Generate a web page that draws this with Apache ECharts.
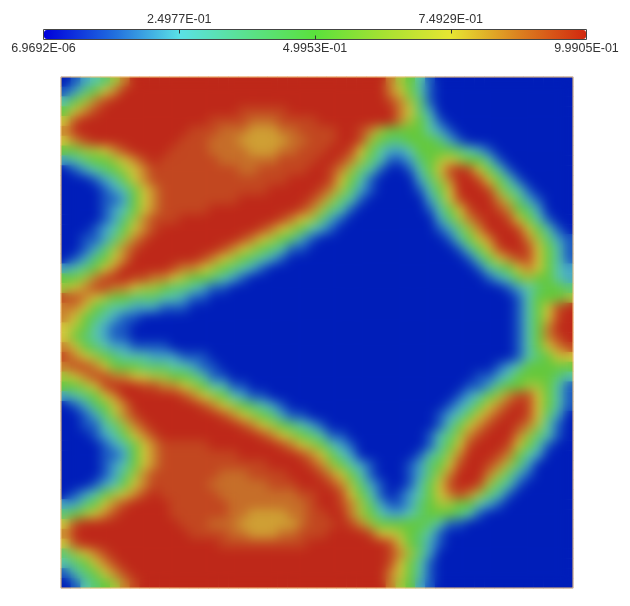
<!DOCTYPE html>
<html><head><meta charset="utf-8">
<style>html,body{margin:0;padding:0;background:#fff}#c{width:630px;height:606px}</style>
<script src="https://cdn.jsdelivr.net/npm/echarts@6/dist/echarts.min.js"></script>
</head><body><div id="c"></div>
<script>
// colour-bar scale
const scaleMin = 6.9692e-6, scaleMax = 0.99905;
const topTicks = [0.24977, 0.74929];
const topTickLabels = ['2.4977E-01', '7.4929E-01'];
const bottomTicks = [6.9692e-6, 0.49953, 0.99905];
const bottomTickLabels = ['6.9692E-06', '4.9953E-01', '9.9905E-01'];
// value for each level symbol
const levels = {'0':0.0,'1':0.11,'2':0.21,'3':0.31,'4':0.42,'5':0.52,'6':0.63,'7':0.74,'b':0.82,'8':0.87,'c':0.90,'a':0.955,'9':0.999};
// field samples, 52 rows x 52 columns, top row first
const fieldRows = [
'0123468999 9999999999 9999999999 9998653100 000000000000',
'1245789999 9999999999 9999999999 9998753100 000000000000',
'3568a99999 9999999999 9999999999 999a864100 000000000000',
'578a999999 99999999aa aaa9999999 9999874200 000000000000',
'7a99999999 99999aaaac ccaaaa9999 9999865310 000000000000',
'8999999999 999aaacccb bbccaaaa99 a865555321 000000000000',
'78a9999999 99aaacccbb bbbccaaa99 a654455542 100000000000',
'556678a999 9aaaaccccb bbccaaa99a 7532235555 432100000000',
'23455678a9 aaaaaacccc ccaaaa99a8 6431124567 655310000000',
'012345678a aaaaaaaacc aaaaa99a86 431001357a 9a7531000000',
'000123578a aaaaaaaaaa aaa9999a75 3100002468 99a753100000',
'0000123578 aaaaaaaaaa a99999a864 2100001357 999a64310000',
'0000112578 aaaaaaaa99 99999a8643 1000000247 a99986421000',
'0000123578 aaaaa99999 9999a86431 0000000135 7a99a8542000',
'000012468a aa99999999 99a8764210 0000000024 68a99a753100',
'000123578a 9999999999 a876532100 0000000012 468999a75310',
'00112468a9 99999999a8 7654210000 0000000001 357899986421',
'0012468a99 999999a876 5431100000 0000000000 1357a99a7531',
'0124578999 9999a87654 3210000000 0000000000 013578aa7531',
'2345789999 9a88765432 1000000000 0000000000 001345787532',
'5568a99aa8 8765543210 0000000000 0000000000 000123565532',
'678aa88766 5443211000 0000000000 0000000000 000001234554',
'aa87655444 3321100000 0000000000 0000000000 000000135556',
'8875433222 1110000000 0000000000 0000000000 0000001357a9',
'8754321100 0000000000 0000000000 0000000000 0000001357a9',
'7653211000 0000000000 0000000000 0000000000 000000135899',
'7543211000 0000000000 0000000000 0000000000 0000001358a9',
'8754322111 1000000000 0000000000 0000000000 00000013578a',
'a876543332 2211100000 0000000000 0000000000 000000134577',
'8aa8755544 4332110000 0000000000 0000000000 000012355555',
'678aa88776 6554311000 0000000000 0000000000 001123555543',
'5567a999aa 8876533110 0000000000 0000000000 011245566531',
'2345789999 99a8765321 1000000000 0000000000 123568aa7531',
'0124578999 9999a87654 3210000000 0000000001 23578a9a7531',
'0012468a99 999999a876 5421100000 0000000012 3578a99a7420',
'00113468a9 99999999a8 7654321000 0000000013 578a99a86310',
'000123578a 9999999999 a876543110 0000000134 68a999864310',
'0000123578 aaaaa99999 99a8765321 0000000135 7a999a753100',
'0000112578 aaaaaaaa99 9999a87532 0000001346 8999a8532000',
'0000123578 aaaaaaaaaa a9999a8653 2100012457 a99a86420000',
'000012468a aaaaaaccca aaa999a875 3100012468 999864210000',
'000123578a aaaaaccccc caaa999a86 421001357a 99a643100000',
'01235678a9 aaaaaacccc ccccaa99a7 5310123578 a86431000000',
'224578a999 9aaaaaaccc ccccca99a8 6421124566 553210000000',
'45678a9999 9aaaaaaccb bbbccaa998 6532234555 431000000000',
'7a99999999 99aaacccbb bbbbcaaa9a 8655555431 100000000000',
'8999999999 999aaaaccb bbccaaa999 9a77654310 000000000000',
'7a99999999 999999aaaa aaaaa99999 999a754210 000000000000',
'4678a99999 9999999999 9999999999 999a864200 000000000000',
'34578a9999 9999999999 9999999999 999a753100 000000000000',
'134578a999 9999999999 9999999999 9998753100 000000000000',
'0134568a99 9999999999 9999999999 9998652100 000000000000'
];
// colours
const barColors = ['#0000dc','#1f6ade','#5ae1e6','#5ae18c','#5ae13c','#a5e132','#e6e632','#dc8220','#d2280f'];
const plotColors = ['#001eb9','#1f62c4','#5ac8c8','#5ac88c','#5ac83c','#a0c83c','#d7c83c','#c8802d','#be2819'];

const rows = fieldRows.map(r => r.replace(/ /g, ''));
const cols = Array.from({length: rows[0].length}, (_, i) => i);
const rowIdx = rows.map((_, j) => j);
const cells = [];
rows.forEach((r, j) => { for (let i = 0; i < r.length; i++) cells.push([i, j, levels[r[i]]]); });

const label = (vals, names) => v => { const k = vals.findIndex(t => Math.abs(t - v) < 1e-9); return k < 0 ? '' : names[k]; };
const font = {fontFamily: '"Liberation Sans", Arial, sans-serif', fontSize: 12.5, color: '#333'};

const chart = echarts.init(document.getElementById('c'), null, {renderer: 'canvas'});
chart.setOption({
  animation: false,
  backgroundColor: '#fff',
  grid: [
    {left: 43.5, top: 29.5, width: 543, height: 10, show: true, backgroundColor: 'transparent', borderColor: '#444', borderWidth: 1, z: 10},
    {left: 61, top: 77, width: 512, height: 511, show: true, backgroundColor: 'transparent', borderColor: '#f3c37a', borderWidth: 1, zlevel: 2}
  ],
  xAxis: [
    {type: 'value', gridIndex: 0, position: 'top', min: scaleMin, max: scaleMax, z: 11,
      splitLine: {show: false}, axisLine: {show: false, onZero: false},
      axisTick: {show: true, inside: true, length: 4, customValues: topTicks, lineStyle: {color: '#333'}},
      axisLabel: {show: true, margin: 3, customValues: topTicks, formatter: label(topTicks, topTickLabels), ...font}},
    {type: 'value', gridIndex: 0, position: 'bottom', min: scaleMin, max: scaleMax, z: 11,
      splitLine: {show: false}, axisLine: {show: false, onZero: false},
      axisTick: {show: true, inside: true, length: 4, customValues: [bottomTicks[1]], lineStyle: {color: '#333'}},
      axisLabel: {show: true, margin: 3, customValues: bottomTicks, formatter: label(bottomTicks, bottomTickLabels), ...font}},
    {type: 'category', gridIndex: 1, data: cols, show: false}
  ],
  yAxis: [
    {type: 'value', gridIndex: 0, min: 0, max: 1, show: false},
    {type: 'category', gridIndex: 1, data: rowIdx, inverse: true, show: false}
  ],
  visualMap: [
    {type: 'continuous', seriesIndex: [], min: scaleMin, max: scaleMax, orient: 'horizontal',
      left: 44, top: 30, padding: 0, itemHeight: 542, itemWidth: 9, calculable: false, hoverLink: false,
      text: null, showLabel: false, inRange: {color: barColors}, z: 4},
    {type: 'continuous', seriesIndex: [0, 1], dimension: 2, min: scaleMin, max: scaleMax, show: false,
      inRange: {color: plotColors}}
  ],
  series: [
    {type: 'heatmap', xAxisIndex: 2, yAxisIndex: 1, data: cells, progressive: 0, emphasis: {disabled: true}, silent: true},
    {type: 'heatmap', xAxisIndex: 2, yAxisIndex: 1, data: cells, progressive: 0, emphasis: {disabled: true}, silent: true, zlevel: 1}
  ]
});
// soften the sample grid: blur only the upper field layer, clipped to the plot frame
function soften() {
  const cv = document.querySelector('canvas[data-zr-dom-id="zr_1"]');
  if (cv) { cv.style.filter = 'blur(6px)'; cv.style.clipPath = 'inset(77px 57px 18px 61px)'; }
}
soften();
chart.on('finished', soften);
requestAnimationFrame(soften);
</script></body></html>
